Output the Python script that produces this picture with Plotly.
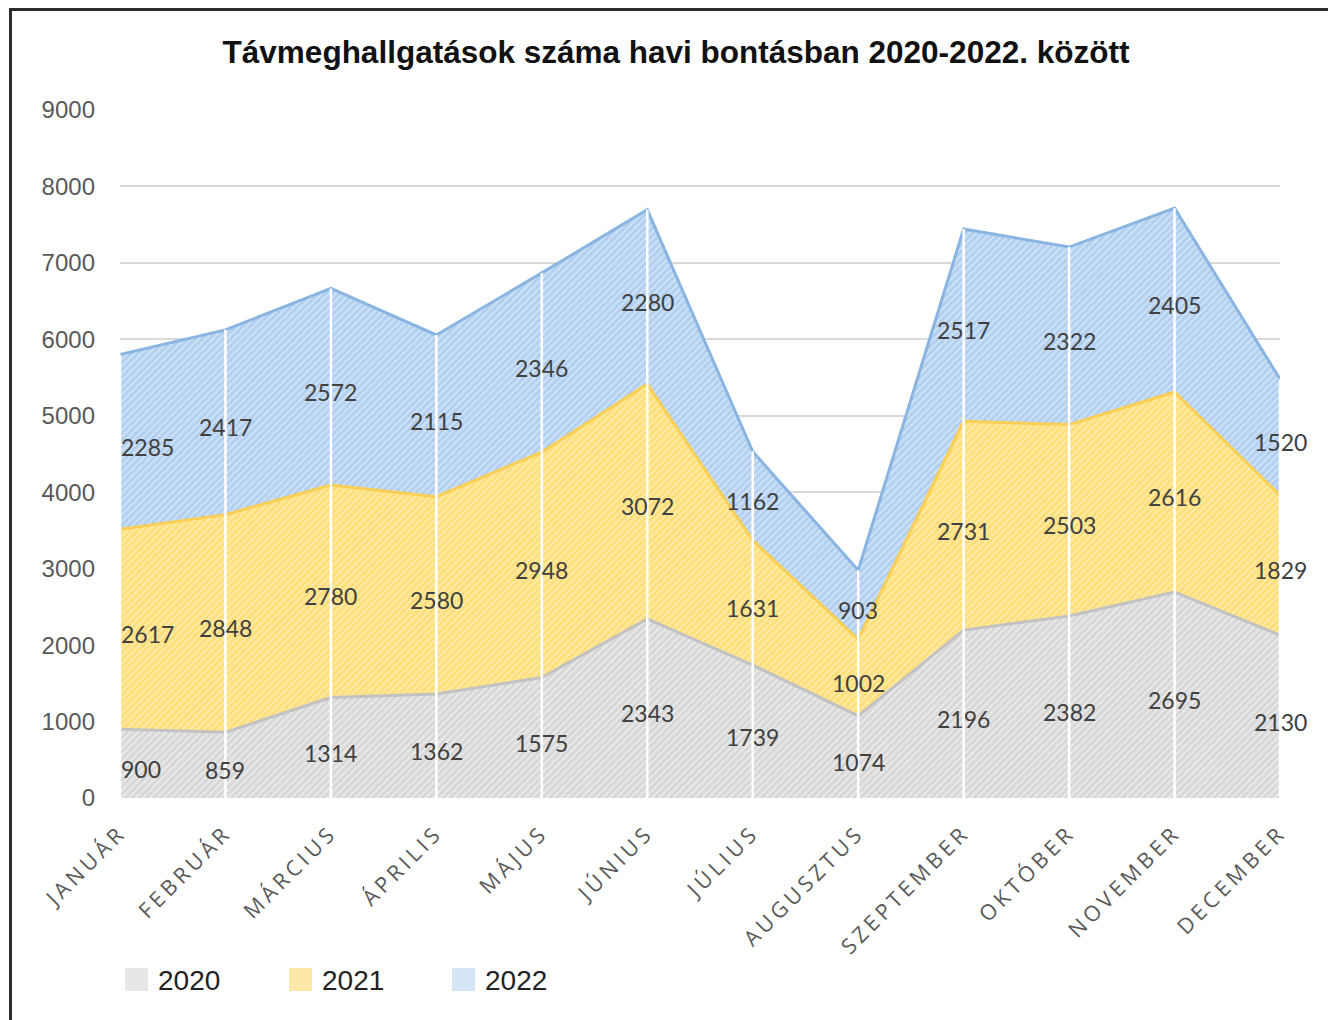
import numpy as np
import plotly.graph_objects as go

months = ["JANUÁR", "FEBRUÁR", "MÁRCIUS", "ÁPRILIS", "MÁJUS", "JÚNIUS", "JÚLIUS",
          "AUGUSZTUS", "SZEPTEMBER", "OKTÓBER", "NOVEMBER", "DECEMBER"]
years = ["2020", "2021", "2022"]
v2020 = [900, 859, 1314, 1362, 1575, 2343, 1739, 1074, 2196, 2382, 2695, 2130]
v2021 = [2617, 2848, 2780, 2580, 2948, 3072, 1631, 1002, 2731, 2503, 2616, 1829]
v2022 = [2285, 2417, 2572, 2115, 2346, 2280, 1162, 903, 2517, 2322, 2405, 1520]
y_ticks = [0, 1000, 2000, 3000, 4000, 5000, 6000, 7000, 8000, 9000]
title = "Távmeghallgatások száma havi bontásban 2020-2022. között"

series = [v2020, v2021, v2022]
styles = [
    dict(bg="#e9e9e9", fg="#c4c4c4", line="#c2c2c2", legend="#e7e7e6"),
    dict(bg="#ffeaa6", fg="#ffd148", line="#f9cf55", legend="#fce8a8"),
    dict(bg="#cde1f6", fg="#94bce8", line="#8ab5e3", legend="#d4e6f6"),
]

# page offset (browser body margin)
OFF = 8
W, H = 1336 - OFF, 1020 - OFF
L, T = 120 - OFF, 110 - OFF
PW, PH = 1160, 688
R = W - L - PW
B = H - T - PH

def px(xp):
    return (xp - OFF - L) / PW

def py(yp):
    return (T + PH - (yp - OFF)) / PH

x = list(range(len(months)))
fig = go.Figure()

for name, vals, st in zip(years, series, styles):
    fig.add_trace(go.Scatter(
        x=x, y=vals, name=name, stackgroup="one", mode="lines",
        line=dict(color=st["line"], width=3),
        fillcolor=st["bg"],
        fillpattern=dict(shape="/", bgcolor=st["bg"], fgcolor=st["fg"], size=5, solidity=0.55),
        showlegend=False, hoverinfo="skip",
    ))

# white drop lines
cum = np.cumsum(np.array(series), axis=0)
totals = cum[-1]
lx, ly = [], []
for i, t in zip(x, totals):
    lx += [i, i, None]
    ly += [0, float(t), None]
fig.add_trace(go.Scatter(x=lx, y=ly, mode="lines", line=dict(color="white", width=2.5),
                         showlegend=False, hoverinfo="skip"))

shapes = []
annotations = []

# data labels at middle of each band
base = np.zeros(len(months))
for vals in series:
    arr = np.array(vals, dtype=float)
    mid = base + arr / 2
    for i, v, m in zip(x, vals, mid):
        annotations.append(dict(
            x=i, y=float(m), xref="x", yref="y", text=str(v), showarrow=False,
            xanchor="left" if i == 0 else "center", yanchor="middle",
            xshift=-1 if i == 0 else 0, yshift=-5,
            font=dict(family="Lato", size=23, color="#404040"),
        ))
    base = base + arr

# manual legend
leg_x = [125, 289, 452]
for lxp, name, st in zip(leg_x, years, styles):
    shapes.append(dict(type="rect", xref="paper", yref="paper",
                       x0=px(lxp), x1=px(lxp + 23), y0=py(991), y1=py(968),
                       fillcolor=st["legend"], line=dict(width=0)))
    annotations.append(dict(xref="paper", yref="paper", x=px(lxp + 31), y=py(980),
                            xanchor="left", yanchor="middle", text=name, showarrow=False,
                            font=dict(family="Liberation Sans", size=28, color="#222222")))

# outer frame
shapes.append(dict(type="rect", xref="paper", yref="paper",
                   x0=px(10.5), x1=px(1360), y0=py(1040), y1=py(9.5),
                   line=dict(color="#2b2b2b", width=3), fillcolor="rgba(0,0,0,0)", layer="above"))

ticktext = ['<span style="letter-spacing:4px">%s</span>' % m for m in months]

fig.update_layout(
    width=W, height=H,
    margin=dict(l=L, r=R, t=T, b=B),
    paper_bgcolor="white", plot_bgcolor="white",
    title=dict(text=title, x=(676 - OFF) / W, xref="container", xanchor="center",
               y=1 - (52 - OFF) / H, yanchor="middle",
               font=dict(family="Liberation Sans", size=31.5, color="#111111", weight="bold")),
    xaxis=dict(range=[0, len(months) - 1], tickmode="array", tickvals=x, ticktext=ticktext,
               tickangle=-45, showgrid=False, zeroline=False, showline=False, ticks="",
               ticklabelstandoff=17,
               tickfont=dict(family="Open Sans", size=21.5, color="#595959")),
    yaxis=dict(range=[0, 9000], tickmode="array", tickvals=y_ticks, showgrid=True,
               gridcolor="#d9d9d9", gridwidth=2, zeroline=False, showline=False, ticks="",
               ticklabelstandoff=24,
               tickfont=dict(family="Liberation Sans", size=24, color="#595959")),
    shapes=shapes, annotations=annotations,
    showlegend=False,
)

fig.write_html("out.html")
